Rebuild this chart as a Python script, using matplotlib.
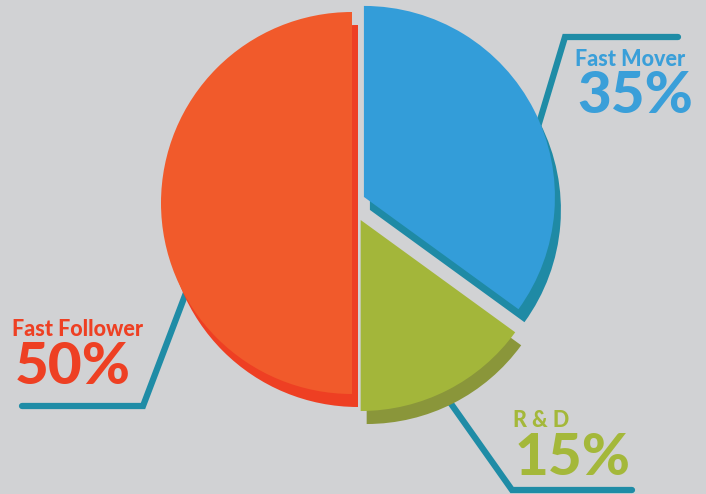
import matplotlib.pyplot as plt

plt.rcParams['font.family'] = ['Lato', 'DejaVu Sans']

# data (clockwise from 12 o'clock)
labels = ['Fast Mover', 'R & D', 'Fast Follower']
shares = [35, 15, 50]
face_colors = ['#339dd9', '#a3b63a', '#f15a2b']
side_colors = ['#1f8aa5', '#8a963a', '#ee3f23']
label_colors = ['#3a9fd9', '#a4b83a', '#ee4023']
explode = [0.07, 0.10, 0.0]

W, H = 706, 494
bg = '#d1d2d4'
line_col = '#1f8ca6'

fig = plt.figure(figsize=(W / 100, H / 100), dpi=100, facecolor=bg)
ax = fig.add_axes([0, 0, 1, 1])
ax.set_facecolor(bg)

def Y(y):
    return H - y

cx, cy, r = 352, Y(203), 191
dx, dy = 6, -13
expl = [e * r for e in explode]  # pie() offsets in data units

# leader lines, behind the pie
ax.plot([525, 565, 678], [Y(170), Y(37), Y(37)], color=line_col, lw=4.5,
        solid_capstyle='round', solid_joinstyle='miter', zorder=1)
ax.plot([200, 143, 22], [Y(256), Y(406), Y(406)], color=line_col, lw=4.5,
        solid_capstyle='round', solid_joinstyle='miter', zorder=1)
ax.plot([430, 512, 632], [Y(374), Y(490), Y(490)], color=line_col, lw=4.5,
        solid_capstyle='round', solid_joinstyle='miter', zorder=1)

# side (extrusion) then face
w1, _ = ax.pie(shares, colors=side_colors, explode=expl, startangle=90,
               counterclock=False, radius=r, center=(cx + dx, cy + dy), frame=True)
w2, _ = ax.pie(shares, colors=face_colors, explode=expl, startangle=90,
               counterclock=False, radius=r, center=(cx, cy), frame=True)
for w in w1:
    w.set_zorder(2)
for w in w2:
    w.set_zorder(3)

# labels
pos = [(575, 66, 577, 113), (513, 427, 515, 475), (12, 336, 15, 384)]
for lab, val, col, (x1, y1, x2, y2) in zip(labels, shares, label_colors, pos):
    ax.text(x1, Y(y1), lab, color=col, fontsize=15.5, fontweight='black',
            ha='left', va='baseline', zorder=4)
    ax.text(x2, Y(y2), f'{val}%', color=col, fontsize=42, fontweight='black',
            ha='left', va='baseline', zorder=4)

ax.set_xlim(0, W)
ax.set_ylim(0, H)
ax.set_aspect('auto')
ax.axis('off')

fig.savefig('out.png', dpi=100, facecolor=bg)
